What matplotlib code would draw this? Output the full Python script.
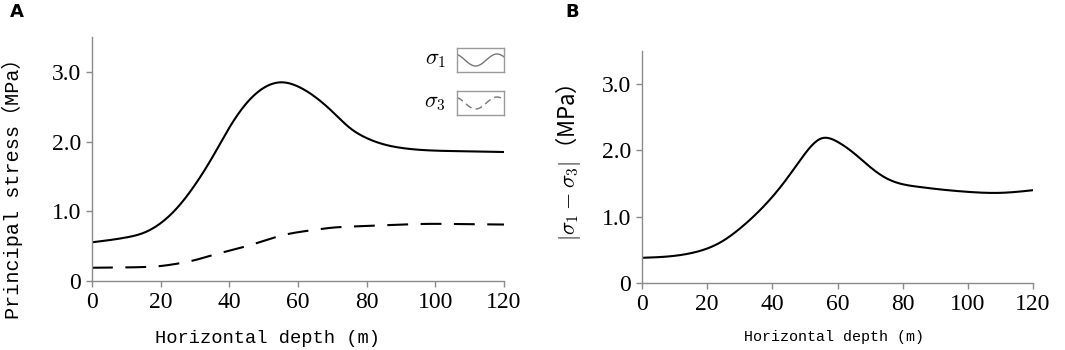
import matplotlib
matplotlib.use("Agg")
import matplotlib.pyplot as plt
import numpy as np

# horizontal depth (m)
depth = [0, 10, 15, 20, 25, 30, 35, 40, 45, 50, 55, 60, 65, 70, 75, 80, 85, 90, 100, 110, 120]

# principal stresses (MPa)
sigma1 = [0.555, 0.625, 0.69, 0.83, 1.06, 1.38, 1.77, 2.20, 2.55, 2.77, 2.85, 2.79, 2.64, 2.43, 2.20,
          2.05, 1.96, 1.91, 1.87, 1.86, 1.85]
sigma3 = [0.19, 0.195, 0.20, 0.215, 0.25, 0.30, 0.37, 0.435, 0.50, 0.575, 0.65, 0.70, 0.735, 0.765, 0.78,
          0.79, 0.80, 0.81, 0.82, 0.815, 0.81]

# deviatoric stress |s1 - s3| (MPa)
diff = [0.38, 0.41, 0.45, 0.52, 0.64, 0.82, 1.04, 1.30, 1.61, 1.95, 2.18, 2.13, 1.96, 1.75, 1.58,
        1.49, 1.45, 1.42, 1.375, 1.36, 1.40]

xticks = [0, 20, 40, 60, 80, 100, 120]
yticks = [0, 1, 2, 3]
ytick_labels = ["0", "1.0", "2.0", "3.0"]

SPINE = "#8a8a8a"
MONO = ["Liberation Mono", "Noto Sans CJK SC"]
SERIF = "Liberation Serif"


def smooth(x, y, n=500):
    # natural cubic spline through the read points
    x = np.asarray(x, float)
    y = np.asarray(y, float)
    k = len(x)
    h = np.diff(x)
    A = np.zeros((k, k))
    b = np.zeros(k)
    A[0, 0] = A[-1, -1] = 1
    for i in range(1, k - 1):
        A[i, i - 1] = h[i - 1]
        A[i, i] = 2 * (h[i - 1] + h[i])
        A[i, i + 1] = h[i]
        b[i] = 6 * ((y[i + 1] - y[i]) / h[i] - (y[i] - y[i - 1]) / h[i - 1])
    M = np.linalg.solve(A, b)
    xs = np.linspace(x[0], x[-1], n)
    idx = np.clip(np.searchsorted(x, xs) - 1, 0, k - 2)
    x0, x1 = x[idx], x[idx + 1]
    hh = h[idx]
    ys = (M[idx] * (x1 - xs) ** 3 / (6 * hh) + M[idx + 1] * (xs - x0) ** 3 / (6 * hh)
          + (y[idx] / hh - M[idx] * hh / 6) * (x1 - xs)
          + (y[idx + 1] / hh - M[idx + 1] * hh / 6) * (xs - x0))
    return xs, ys


def style(ax):
    for side in ("top", "right"):
        ax.spines[side].set_visible(False)
    for side in ("left", "bottom"):
        ax.spines[side].set_color(SPINE)
        ax.spines[side].set_linewidth(1.0)
    ax.set_xlim(0, 120)
    ax.set_ylim(0, 3.5)
    ax.set_xticks(xticks)
    ax.set_yticks(yticks, labels=ytick_labels)
    ax.tick_params(direction="out", length=4, width=1.0, color=SPINE, pad=4, labelsize=17)
    for lab in ax.get_xticklabels() + ax.get_yticklabels():
        lab.set_fontfamily(SERIF)


W, H = 1065, 350
fig = plt.figure(figsize=(W / 100, H / 100), dpi=100)

# panel A
axA = fig.add_axes([92 / W, 1 - 281 / H, (504 - 92) / W, (281 - 37) / H])
style(axA)
axA.plot(*smooth(depth, sigma1), color="black", lw=1.5)
axA.plot(*smooth(depth, sigma3), color="black", lw=1.5, dashes=(10, 6))
axA.set_xlabel("Horizontal depth (m)", family=MONO, fontsize=13.5, va="center")
axA.set_ylabel("Principal stress（MPa）", family=MONO, fontsize=14.5, va="center")
axA.xaxis.set_label_coords(0.427, -0.234)
axA.yaxis.set_label_coords(-0.194, 0.40)

# legend boxes with wavy samples
wave_x = np.linspace(0, 1, 60)
wave_y = 0.5 + 0.25 * np.cos(2 * np.pi * 1.1 * wave_x + 0.4)
for label, top, dash in (("$\\sigma_1$", 48, None), ("$\\sigma_3$", 91, (5, 3))):
    box = fig.add_axes([457 / W, 1 - (top + 24) / H, 47 / W, 24 / H])
    box.set_xticks([])
    box.set_yticks([])
    for sp in box.spines.values():
        sp.set_color("#9a9a9a")
        sp.set_linewidth(1.0)
    box.set_xlim(0, 1)
    box.set_ylim(0, 1)
    if dash:
        box.plot(wave_x, wave_y, color="#777777", lw=1.0, dashes=dash)
    else:
        box.plot(wave_x, wave_y, color="#777777", lw=1.0)
    fig.text(446 / W, 1 - (top + 12) / H, label, fontsize=16, ha="right", va="center",
             math_fontfamily="cm")

# panel B
axB = fig.add_axes([642 / W, 1 - 283 / H, (1033 - 642) / W, (283 - 51) / H])
style(axB)
axB.plot(*smooth(depth, diff), color="black", lw=1.5)
axB.set_xlabel("Horizontal depth (m)", family=MONO, fontsize=10.8, va="center")
axB.set_ylabel("$|\\sigma_1-\\sigma_3|$（MPa）", family="Noto Sans CJK SC", fontsize=16,
               math_fontfamily="cm", va="center")
axB.xaxis.set_label_coords(0.49, -0.233)
axB.yaxis.set_label_coords(-0.189, 0.52)

fig.text(10 / W, 1 - 12 / H, "A", fontsize=13, fontweight="bold", family="DejaVu Sans", va="center")
fig.text(565 / W, 1 - 12 / H, "B", fontsize=13, fontweight="bold", family="DejaVu Sans", va="center")

fig.savefig("out.png", dpi=100)
